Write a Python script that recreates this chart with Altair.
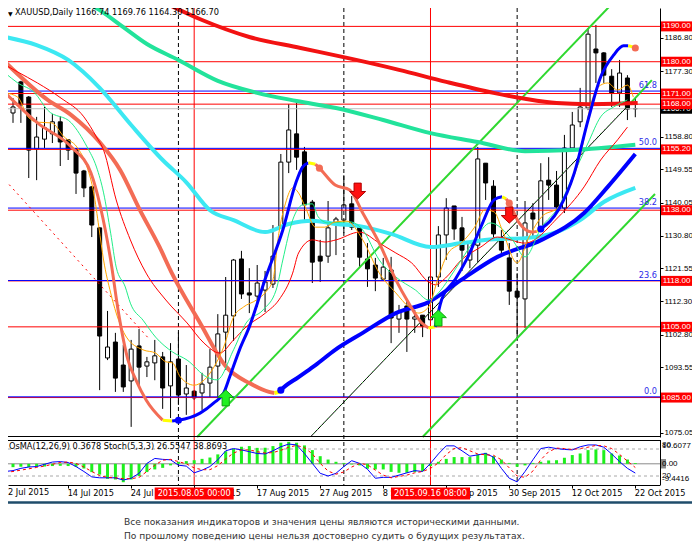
import altair as alt
import pandas as pd

# ---------------- data ----------------
BARS = list(range(81))
OPEN = [1168.3, 1165.5, 1174.3, 1170.0, 1155.3, 1158.1, 1159.6, 1163.0, 1157.9, 1155.3,
        1149.1, 1144.6, 1133.0, 1096.2, 1100.7, 1094.2, 1089.7, 1099.6, 1093.9, 1094.8,
        1096.5, 1088.3, 1095.9, 1086.0, 1086.8, 1086.3, 1089.1, 1093.9, 1103.5, 1108.1,
        1124.2, 1114.6, 1113.7, 1115.4, 1117.1, 1133.5, 1151.6, 1159.6, 1154.5, 1140.3,
        1125.0, 1125.0, 1134.1, 1135.2, 1139.8, 1133.2, 1124.2, 1122.5, 1118.5, 1121.1,
        1107.2, 1110.9, 1107.2, 1108.3, 1107.0, 1119.1, 1131.0, 1139.2, 1133.0, 1123.9,
        1128.1, 1151.3, 1144.8, 1129.3, 1124.5, 1115.1, 1112.9, 1137.2, 1133.0, 1146.5,
        1145.1, 1138.6, 1155.6, 1163.0, 1166.9, 1183.6, 1182.5, 1175.9, 1171.2, 1175.4,
        1166.74]
HIGH = [1171.2, 1169.7, 1174.6, 1170.3, 1164.4, 1167.2, 1165.2, 1164.6, 1158.1, 1155.6,
        1149.4, 1144.8, 1133.2, 1109.5, 1103.3, 1099.9, 1101.3, 1104.4, 1096.5, 1101.3,
        1097.9, 1100.4, 1103.5, 1094.2, 1087.1, 1092.0, 1098.7, 1108.6, 1119.1, 1124.2,
        1126.5, 1121.6, 1122.5, 1120.8, 1133.8, 1153.9, 1168.0, 1168.9, 1155.9, 1140.9,
        1129.6, 1140.6, 1136.1, 1147.9, 1142.0, 1133.2, 1128.7, 1124.5, 1124.5, 1124.8,
        1111.2, 1112.3, 1109.8, 1108.3, 1119.4, 1133.5, 1141.4, 1139.2, 1136.1, 1129.3,
        1155.9, 1151.3, 1146.5, 1132.4, 1128.7, 1120.2, 1140.6, 1140.0, 1151.3, 1153.0,
        1149.1, 1159.3, 1165.8, 1172.6, 1189.5, 1190.4, 1182.7, 1177.9, 1180.5, 1176.2,
        1169.76]
LOW = [1156.4, 1162.7, 1162.7, 1147.1, 1146.5, 1155.6, 1157.0, 1150.5, 1152.2, 1142.6,
       1141.7, 1130.4, 1087.1, 1095.6, 1086.6, 1086.6, 1076.7, 1087.7, 1090.8, 1089.9,
       1081.8, 1079.2, 1082.9, 1080.1, 1084.3, 1081.5, 1085.1, 1085.1, 1092.8, 1101.0,
       1112.9, 1108.9, 1110.6, 1109.2, 1116.0, 1133.0, 1148.5, 1149.4, 1134.4, 1117.4,
       1117.7, 1123.1, 1125.3, 1131.5, 1132.4, 1121.9, 1116.3, 1115.1, 1118.3, 1100.4,
       1103.3, 1097.9, 1103.3, 1102.1, 1105.2, 1116.3, 1123.9, 1129.6, 1120.8, 1121.6,
       1123.3, 1140.9, 1129.6, 1125.3, 1111.2, 1101.3, 1104.7, 1130.4, 1132.4, 1140.9,
       1137.2, 1137.2, 1154.5, 1161.5, 1166.3, 1174.0, 1174.0, 1167.2, 1167.2, 1163.5,
       1164.30]
CLOSE = [1164.9, 1167.2, 1167.8, 1155.0, 1158.7, 1161.3, 1163.0, 1157.3, 1155.0, 1148.5,
         1144.3, 1133.8, 1102.4, 1099.3, 1090.5, 1088.0, 1098.7, 1093.6, 1095.1, 1096.8,
         1087.7, 1095.1, 1085.7, 1087.7, 1084.9, 1088.8, 1093.6, 1103.0, 1108.3, 1123.9,
         1114.3, 1114.0, 1117.4, 1117.7, 1125.0, 1151.6, 1160.7, 1153.0, 1139.5, 1123.3,
         1123.6, 1133.0, 1135.5, 1139.5, 1133.2, 1124.7, 1121.4, 1118.8, 1121.9, 1107.5,
         1109.2, 1107.2, 1107.8, 1105.2, 1119.1, 1131.0, 1138.6, 1132.7, 1126.7, 1129.0,
         1152.5, 1145.7, 1131.3, 1126.7, 1115.1, 1113.4, 1134.4, 1135.5, 1146.3, 1145.1,
         1138.9, 1155.6, 1162.1, 1167.2, 1187.8, 1182.5, 1176.2, 1171.2, 1176.8, 1166.6,
         1166.70]

# horizontal levels
RED_LEVELS = [1190.00, 1180.00, 1171.00, 1168.00, 1155.20, 1138.00, 1118.00, 1105.00, 1085.00]
FIB_LEVELS = [1171.7, 1155.5, 1138.6, 1118.1, 1085.2]
FIB_LABELS = ["61.8", "50.0", "38.2", "23.6", "0.0"]
CURRENT = 1166.70
PRICE_TICKS = [1186.80, 1177.30, 1158.80, 1149.55, 1140.05, 1130.80, 1121.55,
               1112.30, 1102.80, 1093.55, 1075.05]

# vertical markers
MONTH_BARS = [22, 43, 65]
MARK_BARS = [24, 54]
MARK_LABELS = ["2015.08.05 00:00", "2015.09.16 08:00"]
FIRST_DATE_LABEL = "2 Jul 2015"      # label of bar 0 at the left edge
DATE_TICKS = [8, 16, 24, 32, 40, 48, 56, 64, 72, 80]
DATE_LABELS = ["14 Jul 2015", "24 Jul 2015", "5 Aug 2015", "17 Aug 2015", "27 Aug 2015",
               "8 Sep 2015", "18 Sep 2015", "30 Sep 2015", "12 Oct 2015", "22 Oct 2015"]

# moving averages (bar index, price)
MA_RED_K = [19.5, 25, 31, 37.5, 44, 50, 56, 62, 66, 70, 74, 80.3]
MA_RED_V = [1197.5, 1191.8, 1187.0, 1183.9, 1180.8, 1177.7, 1174.3, 1171.2, 1169.5, 1168.3, 1168.0, 1168.3]
MA_TEAL_K = [9, 12, 15, 18, 22, 27, 32, 37, 42, 48, 54, 60, 66, 72, 80]
MA_TEAL_V = [1198.3, 1194.6, 1189.8, 1185.0, 1180.5, 1174.6, 1171.2, 1168.9, 1166.9, 1163.5,
             1159.8, 1157.3, 1154.7, 1155.0, 1156.5]
MA_CYAN_K = [0, 4, 8, 12, 16, 20, 23, 26, 29, 33, 36, 39, 42, 45, 49, 54, 58, 62, 66, 70, 73, 76, 80]
MA_CYAN_V = [1187.0, 1184.7, 1180.5, 1172.6, 1162.1, 1152.2, 1145.9, 1138.0, 1135.2, 1131.8,
             1134.1, 1135.0, 1134.1, 1133.5, 1131.3, 1127.6, 1128.7, 1129.8, 1130.1, 1131.8,
             1135.2, 1140.3, 1144.3]

SLOW_SEGS = [
    ("salmon", [0, 5.4, 8.4, 12.1, 14.6, 17.1, 19.6, 21.1, 24.75, 28.1, 31, 33.5, 34.2],
     [1179.9, 1169.2, 1164.9, 1157.0, 1149.4, 1138.1, 1127.6, 1120.5, 1106.1, 1093.6, 1089.1, 1086.6, 1086.3]),
    ("yellow", [34.2, 34.8], [1086.3, 1086.6]),
    ("blue", [34.8, 35, 37.25, 39.4, 41.9, 45.4, 49.6, 53.75, 57.9, 62.5, 68.1, 73.5, 76.5, 80],
     [1086.6, 1087.1, 1090.8, 1094.2, 1098.5, 1103.3, 1108.9, 1112.0, 1118.3, 1124.8, 1129.6,
      1137.2, 1144.6, 1153.9]),
]
FAST_SEGS = [
    ("salmon", [0, 4.1, 8.4, 10.9, 12.1, 13.4, 14.4, 15.6, 16.6, 17.9, 20],
     [1171.2, 1162.7, 1155.9, 1148.5, 1138.9, 1123.9, 1108.9, 1095.6, 1090.0, 1084.3, 1078.6]),
    ("yellow", [20, 21.2], [1078.6, 1078.4]),
    ("blue", [21.2, 22, 24.75, 26.5, 27.75, 28.5, 29.75, 31, 33.1, 35.25, 36.9, 37.75, 38.5],
     [1078.4, 1078.6, 1080.6, 1083.5, 1086.3, 1090.8, 1098.5, 1105.0, 1119.1, 1132.4, 1145.7, 1150.2, 1151.4]),
    ("yellow", [38.5, 39.4], [1151.4, 1151.0]),
    ("salmon", [39.4, 39.9, 41.9, 43.75, 45.4, 47.5, 49.6, 51.25, 52.9, 53.75],
     [1151.0, 1149.9, 1145.1, 1143.7, 1137.2, 1128.7, 1118.3, 1111.7, 1106.1, 1104.7]),
    ("yellow", [53.75, 54.6], [1104.7, 1105.0]),
    ("blue", [54.6, 55.4, 57.1, 58.75, 60.4, 62.1, 63.1],
     [1105.0, 1112.6, 1118.3, 1124.8, 1133.3, 1141.0, 1141.8]),
    ("yellow", [63.1, 63.6], [1141.8, 1141.2]),
    ("salmon", [63.6, 64, 65.25, 66.9, 67.5], [1141.2, 1140.0, 1134.4, 1131.8, 1132.0]),
    ("yellow", [67.5, 68], [1132.0, 1132.7]),
    ("blue", [68, 70.25, 72.25, 74, 75.6, 77.25, 78.5, 79.1],
     [1132.7, 1138.1, 1148.5, 1163.5, 1175.7, 1181.9, 1184.5, 1184.5]),
    ("yellow", [79.1, 79.7], [1184.5, 1184.2]),
]
DOT_K = [22, 35, 39.9, 64, 68, 80]
DOT_V = [1078.6, 1087.1, 1149.9, 1140.0, 1132.7, 1183.9]
DOT_C = ["blue", "blue", "salmon", "salmon", "blue", "salmon"]

THIN_RED_K = [0, 1.6, 4.1, 7.1, 10, 11.6, 12.5, 14.1, 15.9, 17.9, 20.4, 23.1, 25.25, 27.25, 29,
              30.6, 33.1, 34.75, 36.5, 37.25, 39, 40.6, 42, 45, 47.5, 49.6, 51.6, 53.75, 54.6,
              55.9, 57.9, 60.4, 62.5, 66, 70.25, 73.5, 75.6, 77.75, 79]
THIN_RED_V = [1179.1, 1177.1, 1174.0, 1169.7, 1164.4, 1158.7, 1155.0, 1140.9, 1129.6, 1120.2,
              1112.6, 1106.1, 1100.4, 1097.6, 1101.3, 1105.0, 1109.0, 1112.6, 1120.2, 1125.9,
              1129.6, 1129.0, 1129.6, 1131.8, 1128.7, 1125.9, 1123.1, 1117.7, 1116.9, 1118.8,
              1123.9, 1127.6, 1130.4, 1128.7, 1136.1, 1144.6, 1152.2, 1157.9, 1161.5]
THIN_GREEN_K = [0, 1.6, 3.75, 5.4, 8.4, 10.4, 11.6, 12.5, 13.4, 14.1, 15.25, 15.9, 17.5, 19.1,
                21.25, 23.1, 25.6, 26.9, 29, 30.6, 32.75, 34.4, 35.25, 36.5, 37.75, 39, 39.75,
                41, 43.75, 45.4, 47.5, 49.6, 52.1, 53.75, 55, 56.25, 57.9, 59.6, 61.6, 64.4,
                66, 68.1, 70.25, 72.25, 74, 75.6, 77.25, 79]
THIN_GREEN_V = [1176.8, 1174.0, 1171.2, 1166.3, 1162.7, 1155.9, 1150.2, 1142.9, 1131.5, 1121.9,
                1116.3, 1111.7, 1106.9, 1102.1, 1097.9, 1095.6, 1090.8, 1090.0, 1098.5, 1106.1,
                1109.8, 1115.4, 1123.9, 1135.2, 1139.5, 1139.8, 1136.1, 1134.4, 1134.7, 1132.4,
                1123.9, 1119.1, 1115.4, 1112.6, 1114.6, 1118.3, 1123.9, 1129.6, 1134.4, 1129.6,
                1124.8, 1133.2, 1138.9, 1148.5, 1157.0, 1164.4, 1167.2, 1169.2]
ORANGE_K = [0, 1.6, 2.9, 4.1, 5.9, 7.5, 9.1, 10.4, 11.25, 11.9, 12.5, 13.4, 14.1, 15.4, 17.5,
            19.1, 20.4, 21.25, 22.25, 24, 25.25, 26.5, 27.75, 29, 30.25, 31.9, 33.1, 34, 34.75,
            35.6, 36.5, 37.25, 38.1, 39.4, 40.6, 41.9, 43.4, 45.4, 47.5, 49.6, 51.25, 52.5,
            53.75, 55, 56.25, 57.9, 59.6, 60.9, 62.1, 63.1, 65, 66.5, 68.1, 70.25, 71.5, 73.1,
            74.4, 75.25, 76.5, 77.75, 79, 79.75]
ORANGE_V = [1171.2, 1170.0, 1164.4, 1162.9, 1162.7, 1158.7, 1155.9, 1150.2, 1142.9, 1133.2,
            1123.9, 1114.6, 1108.9, 1102.1, 1098.5, 1097.6, 1095.1, 1094.8, 1090.8, 1088.5,
            1089.9, 1093.6, 1099.3, 1107.8, 1110.6, 1112.6, 1114.9, 1118.3, 1131.5, 1140.0,
            1144.3, 1142.9, 1138.9, 1133.2, 1133.2, 1134.7, 1134.9, 1129.6, 1120.2, 1114.6,
            1110.6, 1108.9, 1110.6, 1119.1, 1125.9, 1128.7, 1133.2, 1138.1, 1137.5, 1132.4,
            1123.1, 1130.4, 1136.1, 1138.9, 1143.7, 1154.2, 1168.3, 1172.8, 1174.0, 1172.0,
            1173.4, 1170.0]

# trend lines: (start bar, start price, end bar, end price)
CHANNEL_LINES = [(24.375, 1073.84, 77.5, 1197.46), (53.0, 1073.84, 82.5, 1142.6)]
MID_LINE = (38.75, 1073.84, 79.4, 1168.3)
MID_LINE_EXT = (38.75, 1073.84, 82.1, 1174.8)
RED_DASH_LINE = (0.0, 1146.5, 18.4, 1101.3)

# signal arrows
DOWN_ARROW_K = [44.75, 64]
DOWN_ARROW_V = [1143.4, 1136.6]
UP_ARROW_K = [28, 55]
UP_ARROW_V = [1084.9, 1107.5]

# oscillator window
OSMA = [-1.8, -1.5, -1.3, -1.5, -1.3, -1.2, -1.0, -0.9, -1.0, -1.3,
        -2.1, -3.7, -4.8, -6.7, -7.0, -8.2, -7.0, -5.5, -3.7, -2.5,
        -1.8, -0.7, 0.9, 1.2, 1.6, 2.2, 2.8, 4.2, 5.6, 6.7,
        7.6, 7.9, 7.1, 7.1, 7.9, 9.4, 9.8, 9.4, 8.2, 6.1,
        3.4, 1.9, 0.9, 0.4, -0.3, -0.7, -2.2, -2.5, -2.5, -3.6,
        -4.0, -4.0, -3.7, -3.3, -1.0, 0.9, 2.2, 3.0, 3.0, 3.0,
        4.2, 4.9, 3.4, 1.9, 0.4, -1.3, -0.7, 0.4, 0.9, 1.5,
        1.6, 2.7, 3.9, 4.6, 6.1, 6.4, 6.1, 4.6, 3.7, 1.9,
        0.3678]
STOCH_MAIN = [30, 32, 37, 40, 41, 46, 51, 52, 50, 41,
              30, 18, 16, 16, 16, 11, 15, 26, 48, 59,
              57, 56, 44, 42, 27, 33, 41, 56, 76, 81,
              78, 74, 70, 69, 76, 85, 91, 89, 70, 48,
              26, 20, 26, 41, 54, 48, 35, 15, 17, 17,
              22, 27, 32, 30, 48, 69, 87, 87, 76, 64,
              67, 70, 62, 37, 15, 7, 30, 56, 81, 84,
              81, 79, 78, 85, 89, 89, 84, 69, 52, 37,
              26.5547]
STOCH_SIGNAL = [28, 30, 33, 36, 39, 42, 46, 50, 51, 48,
                40, 30, 21, 17, 16, 14, 14, 17, 30, 44,
                55, 57, 52, 47, 38, 34, 34, 43, 58, 71,
                78, 78, 74, 71, 72, 77, 84, 88, 83, 69,
                48, 31, 24, 29, 40, 48, 45, 33, 22, 16,
                19, 22, 27, 30, 37, 49, 68, 81, 83, 76,
                69, 67, 66, 56, 38, 20, 17, 31, 56, 74,
                82, 81, 79, 81, 84, 88, 87, 81, 68, 53,
                38.8693]
OSMA_MAX, OSMA_MIN = 10.6077, -9.4416

FOOTER = ["Все показания индикаторов и значения цены являются историческими данными.",
          "По прошлому поведению цены нельзя достоверно судить о будущих результатах."]

# ---------------- layout & styling ----------------
FONT = "DejaVu Sans"
RFONT = "Liberation Sans"   # narrower digits for the right-hand price column
FS = 8.2
RFS = 8.0
W = 652            # plot width (price + oscillator windows)
RCOL = 32          # right-hand label column
PH = 429           # price window height
GAP = 3            # separator between windows
OT = PH + GAP      # oscillator window top
OH = 45            # oscillator window height
TOTAL_H = OT + OH  # bottom of the oscillator window (date axis)
BOX_X = W + 1 + (RCOL - 1) / 2
COLS = {"salmon": "#F36C55", "blue": "#0000FF", "yellow": "#FFFF00"}

XS = alt.Scale(domain=[1, 82.5], nice=False, zero=False)
YS = alt.Scale(domain=[1073.84, 1195.2], range=[PH, 0], nice=False, zero=False)
OS = alt.Scale(domain=[OSMA_MIN, OSMA_MAX], range=[TOTAL_H, OT], nice=False, zero=False)
SS = alt.Scale(domain=[0, 100], range=[TOTAL_H, OT], nice=False, zero=False)

Y_AXIS = alt.Axis(orient="right", values=PRICE_TICKS, title=None, format=".2f",
                  labelFont=RFONT, labelFontSize=RFS, labelColor="black",
                  tickColor="black", tickSize=3, domainColor="black", domainWidth=1,
                  labelPadding=1, grid=False, labelOverlap=False, labelFlush=False)

ticks_js = "[" + ",".join(str(t) for t in DATE_TICKS) + "]"
labels_js = "[" + ",".join("'" + s + "'" for s in DATE_LABELS) + "]"
X_AXIS = alt.Axis(orient="bottom", values=DATE_TICKS, title=None,
                  labelExpr=f"{labels_js}[indexof({ticks_js}, datum.value)]",
                  labelAlign="left", labelBaseline="top", labelFont=FONT, labelFontSize=FS,
                  labelColor="black", tickColor="black", tickSize=3, domainColor="black",
                  labelPadding=1, labelOffset=-1, grid=False, labelOverlap=False,
                  labelFlush=False)


def xq(f):
    return alt.X(f"{f}:Q", scale=XS, axis=X_AXIS)


def yq(f, axis=None):
    return alt.Y(f"{f}:Q", scale=YS, axis=axis)


def line_df(k, v):
    return pd.DataFrame({"k": k, "v": v})


def seg_df(segs):
    rows = []
    for i, (c, ks, vs) in enumerate(segs):
        for k, v in zip(ks, vs):
            rows.append({"k": k, "v": v, "seg": i, "col": COLS[c]})
    return pd.DataFrame(rows)


def two_point(t):
    return pd.DataFrame({"k": [t[0], t[2]], "v": [t[1], t[3]]})


def one():
    return pd.DataFrame({"a": [0]})


# ---------------- price window ----------------
cdf = pd.DataFrame({"k": BARS, "o": OPEN, "h": HIGH, "l": LOW, "c": CLOSE})
cdf["lo"] = cdf[["o", "c"]].min(axis=1)
cdf["hi"] = cdf[["o", "c"]].max(axis=1)
cdf["fill"] = ["white" if c >= o else "black" for o, c in zip(OPEN, CLOSE)]

wicks = alt.Chart(cdf).mark_rule(color="black", strokeWidth=1, clip=True).encode(
    x=xq("k"), y=yq("l", Y_AXIS), y2="h")
bodies = alt.Chart(cdf).mark_bar(width=4, stroke="black", strokeWidth=1, clip=True).encode(
    x=xq("k"), y=yq("lo"), y2="hi", fill=alt.Fill("fill:N", scale=None))

month_lines = alt.Chart(pd.DataFrame({"k": MONTH_BARS})).mark_rule(
    color="black", strokeDash=[4, 3], strokeWidth=1, clip=True).encode(x=xq("k"))
mark_lines = alt.Chart(pd.DataFrame({"k": MARK_BARS})).mark_rule(
    color="#FF0000", strokeWidth=1, clip=True).encode(x=xq("k"))

red_levels = alt.Chart(pd.DataFrame({"p": RED_LEVELS})).mark_rule(
    color="#FF0000", strokeWidth=1).encode(x=alt.value(0), x2=alt.value(W), y=yq("p"))
fib_df = pd.DataFrame({"p": FIB_LEVELS, "t": FIB_LABELS})
fib_levels = alt.Chart(fib_df).mark_rule(color="#0000FF", strokeWidth=1).encode(
    x=alt.value(0), x2=alt.value(W), y=yq("p"))
fib_text = alt.Chart(fib_df).mark_text(
    align="right", baseline="bottom", dy=-1, font=FONT, fontSize=FS, color="#2B2BE8").encode(
    x=alt.value(649), y=yq("p"), text="t:N")
cur_line = alt.Chart(pd.DataFrame({"p": [CURRENT]})).mark_rule(
    color="#BDBDBD", strokeWidth=1).encode(x=alt.value(0), x2=alt.value(W), y=yq("p"))

channel = [alt.Chart(two_point(t)).mark_line(color="#2FD82F", strokeWidth=2, clip=True).encode(
    x=xq("k"), y=yq("v")) for t in CHANNEL_LINES]
mid_black = alt.Chart(two_point(MID_LINE)).mark_line(
    color="black", strokeWidth=1, clip=True).encode(x=xq("k"), y=yq("v"))
mid_green = alt.Chart(two_point(MID_LINE_EXT)).mark_line(
    color="#2FD82F", strokeWidth=1, strokeDash=[1, 4], clip=True).encode(x=xq("k"), y=yq("v"))
mid_green_end = alt.Chart(two_point((MID_LINE[2], MID_LINE[3], MID_LINE_EXT[2], MID_LINE_EXT[3]))).mark_line(
    color="#2FD82F", strokeWidth=2, clip=True).encode(x=xq("k"), y=yq("v"))
red_dash = alt.Chart(two_point(RED_DASH_LINE)).mark_line(
    color="#FF0000", strokeWidth=1, strokeDash=[2, 4], clip=True).encode(x=xq("k"), y=yq("v"))


def ma(k, v, color, w):
    return alt.Chart(line_df(k, v)).mark_line(
        color=color, strokeWidth=w, interpolate="monotone", clip=True).encode(x=xq("k"), y=yq("v"))


ma_red = ma(MA_RED_K, MA_RED_V, "#F21212", 4)
ma_teal = ma(MA_TEAL_K, MA_TEAL_V, "#22E39B", 4)
ma_cyan = ma(MA_CYAN_K, MA_CYAN_V, "#3CE8F2", 4)
slow = alt.Chart(seg_df(SLOW_SEGS)).mark_line(strokeWidth=4, interpolate="monotone", clip=True).encode(
    x=xq("k"), y=yq("v"), detail="seg:N", color=alt.Color("col:N", scale=None))
fast = alt.Chart(seg_df(FAST_SEGS)).mark_line(strokeWidth=3, interpolate="monotone", clip=True).encode(
    x=xq("k"), y=yq("v"), detail="seg:N", color=alt.Color("col:N", scale=None))
thin_red = ma(THIN_RED_K, THIN_RED_V, "#FF0000", 1)
thin_green = ma(THIN_GREEN_K, THIN_GREEN_V, "#22EE88", 1)
thin_orange = ma(ORANGE_K, ORANGE_V, "#FFA500", 1)

dots = alt.Chart(pd.DataFrame({"k": DOT_K, "v": DOT_V, "c": [COLS[c] for c in DOT_C]})).mark_circle(
    size=50, opacity=1, clip=True).encode(x=xq("k"), y=yq("v"), color=alt.Color("c:N", scale=None))

DOWN_PATH = "M-0.45,-1L0.45,-1L0.45,0.05L1,0.05L0,1L-1,0.05L-0.45,0.05Z"
UP_PATH = "M-0.45,1L0.45,1L0.45,-0.05L1,-0.05L0,-1L-1,-0.05L-0.45,-0.05Z"
down_arrows = alt.Chart(pd.DataFrame({"k": DOWN_ARROW_K, "v": DOWN_ARROW_V})).mark_point(
    shape=DOWN_PATH, size=256, filled=True, fill="#FF1010", stroke="#B00000", strokeWidth=1,
    opacity=1).encode(x=xq("k"), y=yq("v"))
up_arrows = alt.Chart(pd.DataFrame({"k": UP_ARROW_K, "v": UP_ARROW_V})).mark_point(
    shape=UP_PATH, size=256, filled=True, fill="#22F022", stroke="#10A010", strokeWidth=1,
    opacity=1).encode(x=xq("k"), y=yq("v"))

header = f"XAUUSD,Daily  {OPEN[-1]:.2f} {HIGH[-1]:.2f} {LOW[-1]:.2f} {CLOSE[-1]:.2f}"
head_tri = alt.Chart(pd.DataFrame({"t": ["▼"]})).mark_text(
    align="left", baseline="top", font=FONT, fontSize=6, color="black").encode(
    x=alt.value(0), y=alt.value(3), text="t:N")
head_txt = alt.Chart(pd.DataFrame({"t": [header]})).mark_text(
    align="left", baseline="top", font=FONT, fontSize=FS, color="black").encode(
    x=alt.value(7), y=alt.value(1), text="t:N")

box_df = pd.DataFrame({"p": RED_LEVELS, "t": [f"{p:.2f}" for p in RED_LEVELS]})
cur_df = pd.DataFrame({"p": [CURRENT], "t": [f"{CURRENT:.2f}"]})
cur_box = alt.Chart(cur_df).mark_tick(orient="horizontal", size=RCOL - 1, thickness=10,
                                      color="black", opacity=1).encode(x=alt.value(BOX_X), y=yq("p"))
cur_box_t = alt.Chart(cur_df).mark_text(font=RFONT, fontSize=RFS, color="white", baseline="middle").encode(
    x=alt.value(BOX_X), y=yq("p"), text="t:N")
red_box = alt.Chart(box_df).mark_tick(orient="horizontal", size=RCOL - 1, thickness=10,
                                      color="#FF0000", opacity=1).encode(x=alt.value(BOX_X), y=yq("p"))
red_box_t = alt.Chart(box_df).mark_text(font=RFONT, fontSize=RFS, color="white", baseline="middle").encode(
    x=alt.value(BOX_X), y=yq("p"), text="t:N")
price_bottom = alt.Chart(one()).mark_rule(color="black", strokeWidth=1).encode(
    x=alt.value(0), x2=alt.value(W), y=alt.value(PH - 0.5))

# ---------------- oscillator window ----------------
odf = pd.DataFrame({"k": BARS, "osma": OSMA, "main": STOCH_MAIN, "sig": STOCH_SIGNAL,
                    "z": [0] * len(BARS)})
zero_line = alt.Chart(pd.DataFrame({"z": [0]})).mark_rule(color="#8A8A8A", strokeWidth=1).encode(
    x=alt.value(0), x2=alt.value(W), y=alt.Y("z:Q", scale=OS, axis=None))
osma_bars = alt.Chart(odf).mark_bar(width=3, color="#1DF01D", clip=True).encode(
    x=xq("k"), y=alt.Y("osma:Q", scale=OS, axis=None), y2="z:Q")
lvl = alt.Chart(pd.DataFrame({"s": [80, 20]})).mark_rule(
    color="#A8A8A8", strokeDash=[3, 3], strokeWidth=1).encode(
    x=alt.value(0), x2=alt.value(W), y=alt.Y("s:Q", scale=SS, axis=None))
st_main = alt.Chart(odf).mark_line(color="#0000FF", strokeWidth=1, clip=True).encode(
    x=xq("k"), y=alt.Y("main:Q", scale=SS, axis=None))
st_sig = alt.Chart(odf).mark_line(color="#FF0000", strokeWidth=1, strokeDash=[3, 3], clip=True).encode(
    x=xq("k"), y=alt.Y("sig:Q", scale=SS, axis=None))

osc_title = f"OsMA(12,26,9) {OSMA[-1]:.4f}  Stoch(5,3,3) {STOCH_MAIN[-1]:.4f} {STOCH_SIGNAL[-1]:.4f}"
o_title = alt.Chart(pd.DataFrame({"t": [osc_title]})).mark_text(
    align="left", baseline="middle", font=FONT, fontSize=FS, color="black").encode(
    x=alt.value(1), y=alt.value(OT + 7), text="t:N")

zero_box = alt.Chart(one()).mark_rect(color="#8C8C8C").encode(
    x=alt.value(W), x2=alt.value(W + 6), y=alt.value(OT + 19), y2=alt.value(OT + 28.5))
rl_df = pd.DataFrame({
    "t": ["80", f"{OSMA_MAX:.4f}", "0.00", f"{OSMA_MIN:.4f}", "20"],
    "y": [OT + 5, OT + 6, OT + 24, OT + 39, OT + 36]})
right_lbls = alt.Chart(rl_df).mark_text(
    align="left", baseline="middle", font=RFONT, fontSize=RFS, color="black").encode(
    x=alt.value(W + 2), y=alt.Y("y:Q", scale=None), text="t:N")
osc_top = alt.Chart(one()).mark_rule(color="black", strokeWidth=1).encode(
    x=alt.value(0), x2=alt.value(W), y=alt.value(OT + 0.5))
osc_right = alt.Chart(one()).mark_rule(color="black", strokeWidth=1).encode(
    x=alt.value(W + 0.5), y=alt.value(OT), y2=alt.value(TOTAL_H))

# label of the first bar at the left edge of the date axis
first_lbl = alt.Chart(pd.DataFrame({"t": [FIRST_DATE_LABEL]})).mark_text(
    align="left", baseline="top", font=FONT, fontSize=FS, color="black").encode(
    x=alt.value(0), y=alt.value(TOTAL_H + 4), text="t:N")

mk_df = pd.DataFrame({"k": MARK_BARS, "t": MARK_LABELS})
mk_box = alt.Chart(mk_df).mark_tick(orient="horizontal", size=79, thickness=12,
                                    color="#FF0000", opacity=1).encode(x=xq("k"), y=alt.value(OT + 53.5))
mk_txt = alt.Chart(mk_df).mark_text(font=FONT, fontSize=FS, color="white", baseline="middle").encode(
    x=xq("k"), y=alt.value(OT + 53.5), text="t:N")

sep_line = alt.Chart(one()).mark_rule(color="#1F4C6B", strokeWidth=2.5).encode(
    x=alt.value(0), x2=alt.value(W + RCOL), y=alt.value(OT + 62.5))
foot_df = pd.DataFrame({"t": FOOTER, "y": [OT + 82, OT + 96]})
footer = alt.Chart(foot_df).mark_text(
    align="left", baseline="middle", font=FONT, fontSize=9.15, color="#333333").encode(
    x=alt.value(116), y=alt.Y("y:Q", scale=None), text="t:N")

chart = alt.layer(
    wicks, bodies, month_lines, mark_lines, red_levels, fib_levels, cur_line,
    *channel, mid_black, mid_green, mid_green_end, red_dash,
    ma_red, ma_teal, ma_cyan, slow, thin_red, thin_green, thin_orange, fast,
    dots, down_arrows, up_arrows, fib_text, head_tri, head_txt,
    cur_box, cur_box_t, red_box, red_box_t, price_bottom,
    zero_line, lvl, osma_bars, st_main, st_sig, o_title, zero_box, right_lbls,
    osc_top, osc_right, first_lbl, mk_box, mk_txt, sep_line, footer,
).resolve_scale(y="independent").properties(
    width=W, height=TOTAL_H,
    autosize=alt.AutoSizeParams(type="none"),
    padding={"left": 0, "top": 0, "right": RCOL, "bottom": 57},
    background="white",
).configure_view(stroke=None)

chart.save("out.html", embed_options={"renderer": "svg", "actions": False})
